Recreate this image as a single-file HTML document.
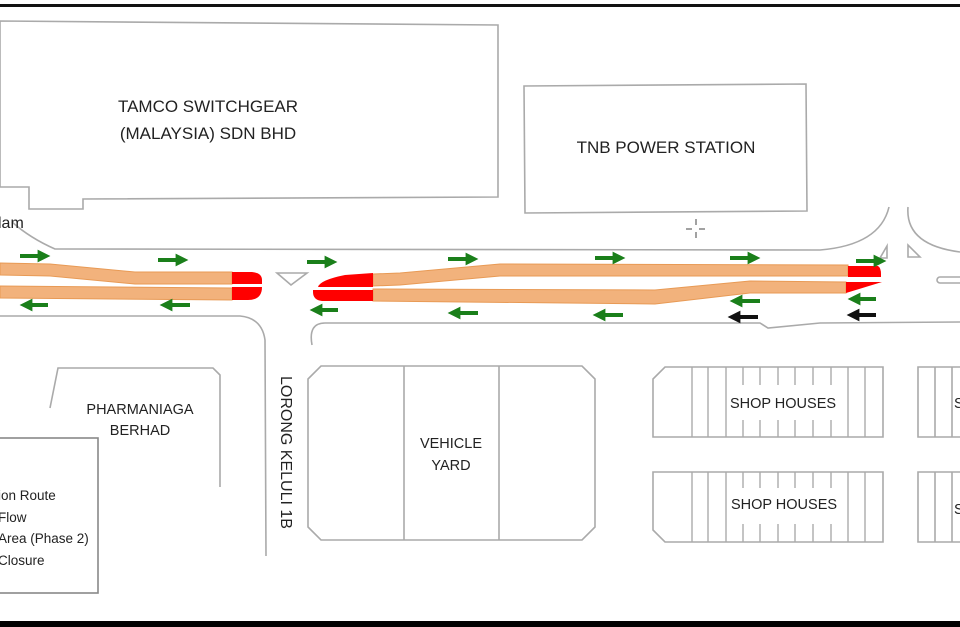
<!DOCTYPE html>
<html><head><meta charset="utf-8"><style>
html,body{margin:0;padding:0;background:#fff}
svg{display:block}
text{font-family:"Liberation Sans",sans-serif;fill:#222}
</style></head><body>
<svg width="960" height="627" viewBox="0 0 960 627" xmlns="http://www.w3.org/2000/svg">
<defs>
<marker id="g" viewBox="0 0 10 10" refX="5" refY="5" markerWidth="3.2" markerHeight="3.2" orient="auto"><path d="M0,0 L10,5 L0,10 z" fill="#1a7f1a"/></marker>
<marker id="b" viewBox="0 0 10 10" refX="5" refY="5" markerWidth="3.2" markerHeight="3.2" orient="auto"><path d="M0,0 L10,5 L0,10 z" fill="#111"/></marker>
</defs>
<rect x="0" y="0" width="960" height="627" fill="#fff"/>
<rect x="0" y="4" width="960" height="3" fill="#111"/>
<rect x="0" y="621" width="960" height="6" fill="#000"/>

<g fill="none" stroke="#aaa" stroke-width="1.6">
<polygon points="0,21 498,25 498,197 83,199 83,209 29,209 29,187 0,187"/>
<polygon points="524,86 806,84 807,211 525,213"/>
<path d="M12,222 Q30,238 55,249 L820,250 Q880,245 889,207"/>
<path d="M908,207 Q905,245 960,252"/>
<polygon points="880,258 887,246 887,258"/>
<polygon points="908,245 908,257 920,257"/>
<rect x="937" y="277" width="26" height="6" rx="3"/>
<polygon points="277,273 307,273 291,285"/>
<path d="M0,316 L240,316 Q262,318 265,340 L266,556"/>
<path d="M312,345 Q308,323 325,323 L760,323 L768,328 L820,323 L960,322"/>
<polyline points="50,408 58,368 213,368 220,375 220,487"/>
<rect x="-2" y="438" width="100" height="155" stroke="#888"/>
<polygon points="321,366 582,366 595,379 595,527 582,540 321,540 308,527 308,379"/>
<line x1="404" y1="366" x2="404" y2="540"/>
<line x1="499" y1="366" x2="499" y2="540"/>
<polygon points="665,367 883,367 883,437 653,437 653,379"/>
<polygon points="653,472 883,472 883,542 665,542 653,530"/>
<polygon points="918,367 962,367 962,437 918,437"/>
<polygon points="918,472 962,472 962,542 918,542"/>
<line x1="935" y1="367" x2="935" y2="437"/><line x1="952" y1="367" x2="952" y2="437"/>
<line x1="935" y1="472" x2="935" y2="542"/><line x1="952" y1="472" x2="952" y2="542"/>
</g>
<g stroke="#aaa" stroke-width="1.4">
<path d="M692,367V437M708,367V437M726,367V437M848,367V437M865,367V437M743,367V385M760,367V385M778,367V385M795,367V385M813,367V385M831,367V385M743,420V437M760,420V437M778,420V437M795,420V437M813,420V437M831,420V437"/>
<path d="M692,472V542M708,472V542M726,472V542M848,472V542M865,472V542M743,472V488M760,472V488M778,472V488M795,472V488M813,472V488M831,472V488M743,524V542M760,524V542M778,524V542M795,524V542M813,524V542M831,524V542"/>
</g>

<g fill="#f2b27c" stroke="#e89a55" stroke-width="1">
<polygon points="0,263 50,264 135,272 232,272 232,284 135,284 50,276 0,275"/>
<polygon points="0,286 232,288 232,300 0,298"/>
<polygon points="373,274 400,273 500,264 848,265 848,276 500,276 400,285 373,286"/>
<polygon points="373,289 655,290 750,281 846,282 846,293 750,293 655,304 373,301"/>
</g>
<g fill="#f00">
<path d="M232,272 L252,272 Q262,273 262,280 L262,284 L232,284 z"/>
<path d="M232,287 L262,287 Q262,300 248,300 L232,300 z"/>
<path d="M373,273 L373,287 L318,287 Q320,280 345,275 z"/>
<path d="M313,290 L373,290 L373,301 L322,301 Q313,300 313,292 z"/>
<path d="M848,266 L878,266 Q881,268 881,274 L881,277 L848,277 z"/>
<path d="M846,282 L882,282 L846,293 z"/>
</g>

<g stroke="#1a7f1a" stroke-width="4" fill="none">
<line x1="20" y1="256" x2="44" y2="256" marker-end="url(#g)"/>
<line x1="158" y1="260" x2="182" y2="260" marker-end="url(#g)"/>
<line x1="307" y1="262" x2="331" y2="262" marker-end="url(#g)"/>
<line x1="448" y1="259" x2="472" y2="259" marker-end="url(#g)"/>
<line x1="595" y1="258" x2="619" y2="258" marker-end="url(#g)"/>
<line x1="730" y1="258" x2="754" y2="258" marker-end="url(#g)"/>
<line x1="856" y1="261" x2="880" y2="261" marker-end="url(#g)"/>
<line x1="48" y1="305" x2="26" y2="305" marker-end="url(#g)"/>
<line x1="190" y1="305" x2="166" y2="305" marker-end="url(#g)"/>
<line x1="338" y1="310" x2="316" y2="310" marker-end="url(#g)"/>
<line x1="478" y1="313" x2="454" y2="313" marker-end="url(#g)"/>
<line x1="623" y1="315" x2="599" y2="315" marker-end="url(#g)"/>
<line x1="760" y1="301" x2="736" y2="301" marker-end="url(#g)"/>
<line x1="876" y1="299" x2="854" y2="299" marker-end="url(#g)"/>
</g>
<g stroke="#111" stroke-width="4" fill="none">
<line x1="758" y1="317" x2="734" y2="317" marker-end="url(#b)"/>
<line x1="876" y1="315" x2="853" y2="315" marker-end="url(#b)"/>
</g>
<g stroke="#444" stroke-width="1"><path d="M696,219v6M696,232v6M686,229h6M699,229h6"/></g>

<text x="208" y="112" font-size="17" text-anchor="middle">TAMCO SWITCHGEAR</text>
<text x="208" y="139" font-size="17" text-anchor="middle">(MALAYSIA) SDN BHD</text>
<text x="666" y="153" font-size="17" text-anchor="middle">TNB POWER STATION</text>
<text x="-2" y="228" font-size="16">lam</text>
<text x="140" y="414" font-size="14.5" text-anchor="middle">PHARMANIAGA</text>
<text x="140" y="435" font-size="14.5" text-anchor="middle">BERHAD</text>
<text x="451" y="448" font-size="14.5" text-anchor="middle">VEHICLE</text>
<text x="451" y="470" font-size="14.5" text-anchor="middle">YARD</text>
<text x="783" y="408" font-size="14.5" text-anchor="middle">SHOP HOUSES</text>
<text x="784" y="509" font-size="14.5" text-anchor="middle">SHOP HOUSES</text>
<text x="954" y="408" font-size="14.5">S</text>
<text x="954" y="514" font-size="14.5">S</text>
<text transform="translate(281,376) rotate(90)" font-size="16" x="0" y="0">LORONG KELULI 1B</text>
<text x="-2" y="500" font-size="13.5">ion Route</text>
<text x="-2" y="522" font-size="13.5">Flow</text>
<text x="-2" y="543" font-size="13.5">Area (Phase 2)</text>
<text x="-2" y="565" font-size="13.5">Closure</text>
</svg>
</body></html>
